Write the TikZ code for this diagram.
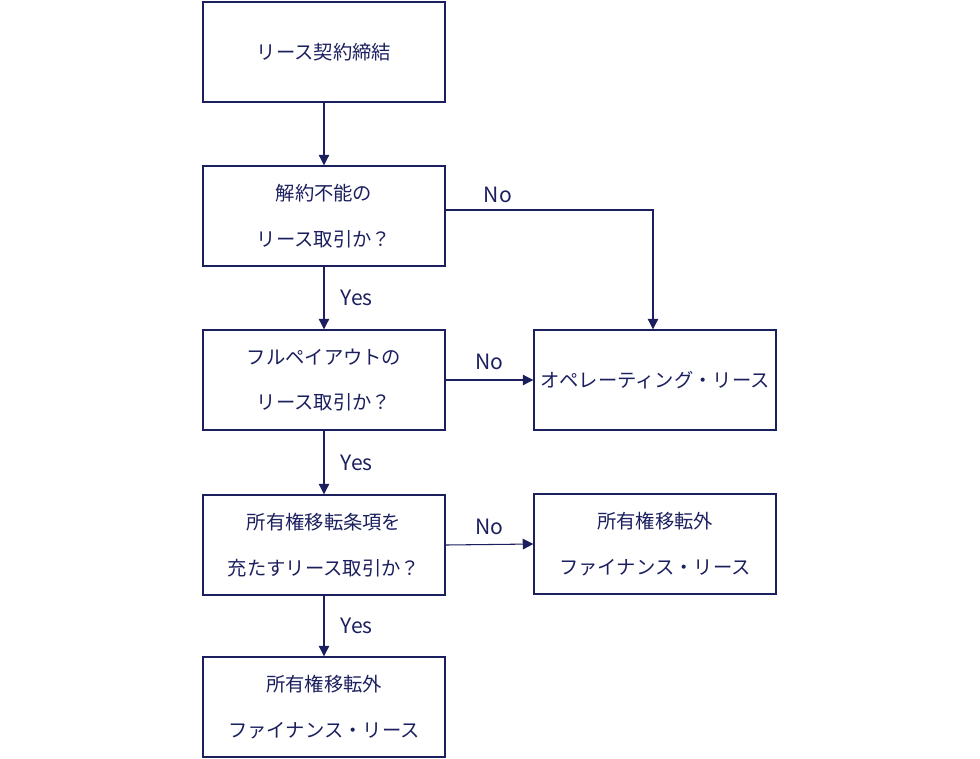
\documentclass[tikz,border=0pt]{standalone}
\usepackage{fontspec}
\setmainfont{Noto Sans CJK JP}
\usetikzlibrary{positioning,arrows.meta}
\definecolor{navy}{HTML}{1B1F5E}
\begin{document}
\begin{tikzpicture}[x=0.02cm,y=-0.02cm,
  box/.style={draw=navy,line width=0.8pt,minimum width=242*0.02cm,minimum height=100*0.02cm,
    align=center,text=navy,font={\fontsize{11}{26}\selectfont}},
  lbl/.style={text=navy,font={\fontsize{12}{14}\selectfont}},
  arr/.style={draw=navy,line width=0.6pt,-{Triangle[length=6pt,width=6pt]}}]
\useasboundingbox (0,0) rectangle (980,758);
\node[box] (start) at (324,52) {リース契約締結};
\node[box] (q1) at (324,216) {解約不能の\\リース取引か？};
\node[box] (q2) at (324,380) {フルペイアウトの\\リース取引か？};
\node[box] (q3) at (324,545) {所有権移転条項を\\充たすリース取引か？};
\node[box] (fin) at (324,707) {所有権移転外\\ファイナンス・リース};
\node[box] (op) at (655,380) {オペレーティング・リース};
\node[box] (fin2) at (655,544) {所有権移転外\\ファイナンス・リース};
\coordinate (c1) at (653,210);
% main flow
\draw[arr] (start) -- (q1);
\draw[arr] (q1) -- node[lbl,right=6pt] {Yes} (q2);
\draw[arr] (q2) -- node[lbl,right=6pt] {Yes} (q3);
\draw[arr] (q3) -- node[lbl,right=6pt] {Yes} (fin);
% No branches
\draw[arr] (q1.east |- c1) -- (c1) -- (c1 |- op.north);
\node[lbl] at (498,195) {No};
\draw[arr] (q2.east) -- node[lbl,above=2pt] {No} (op.west);
\draw[arr] (q3.east) -- node[lbl,above=2pt] {No} (fin2.west);
\end{tikzpicture}
\end{document}
